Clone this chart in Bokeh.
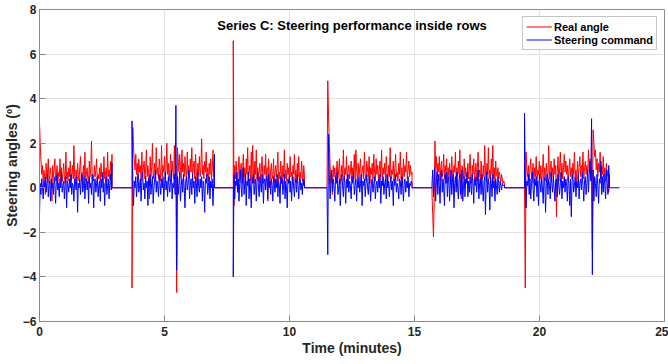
import numpy as np
from bokeh.plotting import figure
from bokeh.models import Label, Legend, LegendItem
from bokeh.embed import file_html
from bokeh.resources import INLINE

# segment time spans (minutes)
SEG_START = [0.0, 3.7, 7.75, 11.5, 15.7, 19.4]
SEG_END = [2.9, 7.0, 10.6, 14.9, 18.6, 22.8]
END_TIME = 23.2

X_TICKS = [0, 5, 10, 15, 20, 25]
Y_TICKS = [-6, -4, -2, 0, 2, 4, 6, 8]

# Real angle values per segment
R1 = [2.9,2.0,1.2,0.6,1.0,0.3,0.8,0.5,-0.3,1.1,0.4,0.7,1.3,0.2,0.6,0.9,0.4,-0.6,1.0,0.5,
      0.8,1.3,0.3,0.6,1.0,0.2,0.7,0.5,1.3,0.4,0.9,0.3,0.6,1.1,0.5,0.2,1.6,0.4,0.7,0.3,
      0.9,0.5,1.2,0.3,0.6,1.0,0.4,1.9,0.5,0.2,0.8,0.4,1.1,0.6,0.3,0.9,1.4,0.4,0.7,0.2,
      1.0,0.5,1.6,0.3,0.6,0.9,0.4,0.2,1.2,0.5,0.8,2.1,0.4,0.6,0.3,1.0,0.5,0.8,1.3,0.2,
      0.6,0.4,0.9,0.3,1.1,0.5,0.7,0.2,1.4,0.4,0.6,0.9,0.3,1.6,0.5,0.8,0.4,1.2,0.6,1.5]
R2 = [-4.5,2.7,1.9,1.2,0.8,1.5,0.6,1.1,0.4,1.3,0.7,1.0,0.3,1.6,0.5,0.9,1.2,0.4,0.8,1.7,
      0.5,1.0,0.6,-0.5,1.4,0.5,0.9,2.0,0.4,0.7,1.1,0.3,1.8,0.6,0.9,0.4,1.3,0.8,0.3,1.9,
      0.5,1.0,0.7,1.4,0.4,0.9,2.0,0.6,1.1,0.3,0.8,1.5,0.5,1.2,0.7,0.4,1.9,0.6,1.0,-4.7,
      1.8,1.3,0.7,1.5,0.9,0.4,1.7,0.7,1.1,0.5,1.4,0.8,0.3,1.6,0.6,1.0,0.4,1.3,0.7,1.8,
      0.5,0.9,1.2,0.4,1.5,0.7,0.3,1.1,0.6,1.4,0.5,0.9,2.2,0.6,1.0,0.4,1.2,0.7,1.6,0.5,
      0.9,0.3,1.1,0.6,1.3,0.4,0.8,1.7,0.5,0.6]
R3 = [6.6,-0.8,1.0,0.4,1.2,0.6,-0.2,0.9,1.4,0.3,0.7,1.1,0.2,0.8,1.5,0.5,0.9,0.1,1.3,0.6,
      1.8,0.4,0.7,1.0,0.3,1.6,0.5,1.9,0.8,0.2,1.2,0.6,1.7,0.4,0.9,0.3,0.7,1.1,0.3,0.8,
      1.4,0.5,0.2,1.0,0.6,1.5,0.3,0.9,-0.6,1.3,0.7,0.1,0.8,1.1,0.4,0.6,1.3,0.2,0.7,1.0,
      0.5,0.9,1.6,0.3,0.7,0.4,1.2,0.6,0.2,1.0,0.5,1.7,0.4,0.8,0.3,1.1,0.6,0.9,0.2,1.4,
      0.5,0.7,0.3,1.0,0.6,1.5,0.4,0.8,0.2,1.1,0.5,1.4,0.3,0.7,0.4,1.2,0.6,0.3,1.0,0.5]
R4 = [0.0,4.8,3.2,2.0,1.0,0.2,0.8,-0.3,1.0,0.5,0.9,0.3,0.7,1.2,0.4,0.8,1.3,0.2,0.6,1.0,
      0.5,1.7,0.3,0.9,0.6,1.4,0.2,0.8,1.0,0.4,0.7,1.2,0.3,0.9,0.6,1.5,0.4,1.7,0.8,0.3,
      1.1,0.5,0.9,1.3,0.2,0.7,1.0,0.4,1.6,0.6,0.3,1.2,0.8,0.5,1.4,0.2,0.9,0.6,1.1,0.4,
      1.5,0.7,0.3,1.3,0.6,1.0,0.4,0.8,1.2,0.5,1.7,0.3,0.9,0.6,1.1,0.4,1.4,0.7,0.2,1.0,
      0.5,1.8,0.4,0.8,0.6,1.2,0.3,0.9,1.5,0.5,0.7,0.3,1.1,0.6,1.6,0.4,0.9,0.2,1.3,0.5,
      1.0,0.7,1.6,0.4,0.8,1.2,0.5,1.0,0.6,0.7]
R5 = [-0.3,-1.2,-2.2,-0.6,2.1,0.9,1.4,0.5,1.1,0.7,1.4,0.3,0.9,1.2,0.5,0.8,1.5,0.4,1.0,0.6,
      1.3,0.2,0.9,0.5,1.1,0.3,0.8,1.4,0.6,0.4,1.0,0.7,1.6,0.3,0.9,0.5,1.2,0.6,1.7,0.4,
      -0.5,1.0,0.7,0.4,1.3,0.5,0.9,0.3,0.6,1.1,0.4,0.8,1.5,0.5,0.2,1.0,0.6,1.3,0.4,0.7,
      1.1,0.3,0.9,1.6,0.5,0.8,0.3,1.2,0.6,0.4,1.0,0.5,1.9,0.7,0.3,1.1,0.6,1.8,0.4,0.8,
      0.5,1.3,0.6,1.9,0.4,0.9,0.3,1.2,0.6,0.5,0.9,0.4,0.7,0.5,0.3,0.6,0.4,0.2,0.3,0.2]
R6 = [0.0,-4.5,1.6,0.9,0.5,1.0,0.3,0.8,1.3,0.4,0.7,1.1,0.2,0.9,0.5,1.4,0.3,0.8,0.6,1.2,
      0.4,1.0,0.2,0.7,1.5,0.5,0.9,0.3,1.1,0.6,0.4,1.9,0.4,0.8,1.2,0.5,0.9,0.3,1.3,0.6,
      1.0,-1.3,0.7,1.4,0.3,0.8,1.6,0.5,1.1,0.4,0.9,1.5,0.7,1.2,0.6,1.0,0.3,0.8,1.3,0.5,
      0.9,0.4,1.1,0.6,1.6,0.5,0.8,0.3,1.2,0.6,0.9,1.4,0.5,1.0,0.7,1.6,0.4,0.9,1.2,0.6,
      1.0,0.5,1.7,0.8,1.3,0.6,0.9,-2.8,2.6,2.0,1.4,1.7,0.8,1.3,0.5,1.1,0.7,1.6,0.4,1.0,
      0.6,1.4,0.5,0.9,0.3,1.1,0.5,0.8,-0.2,0.6]

# Steering command values per segment
B1 = [-1.2,0.2,-0.3,0.4,0.1,-0.5,0.3,0.0,0.5,-0.2,0.2,0.6,-0.4,0.1,0.3,-0.6,0.4,0.0,0.2,-0.3,
      0.5,0.1,-0.7,0.3,0.6,-0.1,0.2,-0.4,0.4,0.0,0.7,-0.2,0.1,0.3,-0.5,0.2,0.5,-0.9,0.3,0.1,
      -0.2,0.4,0.0,0.6,-0.3,0.2,0.1,-0.6,0.4,0.3,-0.1,0.5,-1.1,0.2,0.0,0.4,-0.3,0.3,0.6,-0.2,
      0.1,0.5,-0.5,0.2,0.4,-0.1,0.3,-0.7,0.5,0.0,0.2,-0.3,0.6,0.1,-0.9,0.3,0.4,-0.2,0.2,0.5,
      -0.4,0.1,0.3,-0.6,0.4,0.0,0.6,-0.2,0.2,-0.8,0.3,0.5,-0.3,0.1,0.4,-0.5,0.2,0.6,-0.1,1.1]
B2 = [3.0,0.5,-0.8,0.3,0.0,0.5,-0.4,0.2,0.6,-0.2,0.1,0.4,-0.6,0.3,0.7,-0.1,0.2,-0.5,0.5,0.0,
      0.3,-0.8,0.4,0.1,0.6,-0.3,0.2,0.5,-0.7,0.0,0.4,0.8,-0.2,0.3,0.1,-0.4,0.6,0.2,-0.3,0.4,
      0.0,0.5,-0.6,0.2,0.7,-0.1,0.3,-0.4,0.5,0.1,-0.2,0.4,0.8,-0.5,0.2,0.0,0.6,-0.3,3.7,-3.7,
      0.5,-0.3,0.2,0.7,-0.6,0.1,0.4,-0.2,0.6,0.0,-0.9,0.3,0.5,-0.1,0.2,0.8,-0.5,0.1,0.4,-0.3,
      0.6,0.0,0.3,-0.7,0.5,0.2,-0.4,0.7,0.1,-0.2,0.4,0.0,0.5,-0.6,0.3,0.1,-1.1,0.4,0.2,0.6,
      -0.3,0.1,0.5,-0.5,0.3,0.0,0.4,-0.8,0.2,1.5]
B3 = [-4.0,0.6,-0.5,0.3,0.1,0.7,-0.2,0.4,-0.6,0.2,0.8,0.0,-0.4,0.5,0.9,-0.3,0.2,0.6,-0.8,0.3,
      0.1,0.7,-0.5,0.4,0.0,-0.9,0.5,0.2,0.6,-0.3,0.1,0.4,-0.6,0.3,0.7,0.0,-0.4,0.5,0.2,-0.2,
      0.6,0.1,-0.7,0.3,0.4,-0.1,0.5,0.2,-0.5,0.6,0.0,0.3,-0.3,0.4,0.1,-0.6,0.5,0.2,-0.2,0.4,
      0.0,0.6,-0.4,0.3,0.1,-0.7,0.5,0.2,0.4,-0.3,0.1,0.6,-0.5,0.3,0.0,-0.9,0.4,0.2,0.5,-0.2,
      0.3,-0.6,0.1,0.5,0.0,-0.4,0.4,0.2,-0.2,0.6,0.1,-0.5,0.3,0.4,-0.1,0.2,-0.3,0.4,0.1,0.3]
B4 = [0.0,-3.0,2.4,0.6,-0.5,0.3,0.8,-0.2,0.4,0.1,-0.6,0.5,0.2,0.7,-0.3,0.0,0.4,-0.8,0.3,0.6,
      0.1,-0.4,0.5,0.2,-0.7,0.4,0.0,0.6,-0.2,0.3,0.1,-0.5,0.5,0.2,0.7,-0.3,0.1,0.4,-0.6,0.3,
      0.0,0.5,-0.2,0.2,0.6,-0.8,0.3,0.1,0.4,-0.4,0.2,0.6,0.0,-0.3,0.5,0.1,-0.6,0.3,0.4,-0.2,
      0.2,0.5,-0.5,0.1,0.3,-0.2,0.4,0.0,0.6,-0.7,0.3,0.1,0.5,-0.3,0.2,0.4,-0.5,0.6,0.0,0.3,
      -0.4,0.2,0.5,-0.1,0.3,-0.8,0.4,0.1,0.6,-0.2,0.2,0.0,-0.5,0.4,0.3,-0.3,0.5,0.1,-0.6,0.2,
      0.4,-0.2,0.3,0.0,0.5,-0.4,0.2,0.1,0.3,0.2]
B5 = [0.2,0.8,-0.4,0.5,0.9,-0.6,0.3,0.7,-0.3,0.6,0.1,-0.7,0.5,0.8,-0.2,0.4,0.0,-0.8,0.6,0.2,
      0.7,-0.4,0.3,0.5,-0.6,0.1,0.8,-0.3,0.4,0.6,-0.9,0.2,0.5,-0.2,0.7,0.0,-0.5,0.4,0.6,-0.3,
      0.2,0.8,-0.6,0.1,0.5,-0.4,0.4,0.2,0.7,-0.4,0.3,-0.2,0.5,0.1,-0.3,0.6,0.2,-0.7,0.4,0.1,
      0.5,-0.2,0.3,0.8,-0.5,0.2,0.4,-0.3,0.6,0.0,-0.6,0.3,0.5,-1.2,0.2,0.7,-0.2,0.4,0.1,-1.0,
      0.5,0.2,-0.4,0.6,0.0,0.3,-0.6,0.4,0.1,-0.3,0.5,0.2,-0.2,0.3,0.1,-0.1,0.2,0.1,0.1,0.1]
B6 = [3.35,0.5,-0.9,0.3,0.1,0.6,-0.3,0.4,-0.5,0.2,0.7,0.0,-0.6,0.4,0.1,0.5,-0.4,0.3,-0.8,0.6,
      0.2,-0.2,0.4,0.0,-0.7,0.5,0.3,-1.1,0.2,0.6,-0.3,0.4,0.1,-0.5,0.7,0.2,-0.2,0.5,0.0,-0.6,
      0.3,0.4,-0.4,0.6,0.1,-0.3,0.2,0.7,-0.5,0.3,0.0,0.5,-0.2,0.4,0.1,-0.6,0.5,0.2,-0.8,0.4,
      -1.3,0.3,0.6,-0.2,0.1,0.5,-0.4,0.3,0.0,0.6,-0.5,0.2,0.4,-0.1,0.7,0.1,-0.6,0.3,0.5,-0.3,
      0.2,0.8,-0.2,0.6,1.2,0.3,3.1,-3.9,0.8,-0.6,0.5,0.2,-0.4,0.6,0.1,-0.7,0.4,0.2,1.2,-0.3,
      0.5,-0.2,0.6,0.1,-0.5,0.8,0.2,-0.3,1.0,0.1]

REAL = [R1, R2, R3, R4, R5, R6]
CMD = [B1, B2, B3, B4, B5, B6]


def build(segments, end_time):
    ts, vs = [], []
    for s, e, vals in zip(SEG_START, SEG_END, segments):
        t = np.linspace(s, e, len(vals))
        if ts:
            ts.append(s)
            vs.append(0.0)
        ts.extend(t.tolist())
        vs.extend(vals)
        ts.append(e)
        vs.append(0.0)
    if end_time is not None:
        ts.append(end_time)
        vs.append(0.0)
    return ts, vs


rt, rv = build(REAL, None)
bt, bv = build(CMD, END_TIME)

TXT = "#262626"
FONT = "Liberation Sans"
AXC = "#8a8a8a"

p = figure(frame_width=625, frame_height=312, output_backend="svg", toolbar_location=None,
           x_range=(0, 25), y_range=(-6, 8), min_border_left=30, min_border_top=9,
           min_border_right=4, min_border_bottom=30)
p.background_fill_color = "white"
p.border_fill_color = "white"
p.outline_line_color = AXC
p.outline_line_width = 1

p.xaxis.ticker = X_TICKS
p.yaxis.ticker = Y_TICKS
for ax in (p.xaxis, p.yaxis):
    ax.axis_line_color = AXC
    ax.major_tick_line_color = AXC
    ax.major_tick_in = 6
    ax.major_tick_out = 0
    ax.minor_tick_line_color = None
    ax.major_label_text_font = FONT
    ax.major_label_text_font_style = "bold"
    ax.major_label_text_font_size = "12px"
    ax.major_label_text_color = TXT
    ax.axis_label_text_font = FONT
    ax.axis_label_text_font_style = "bold"
    ax.axis_label_text_font_size = "14px"
    ax.axis_label_text_color = TXT
p.xaxis.major_label_standoff = 5
p.yaxis.major_label_standoff = 3
p.xaxis.axis_label_standoff = 1
p.yaxis.axis_label_standoff = 0
p.xaxis.axis_label = "Time (minutes)"
p.yaxis.axis_label = "Steering angles (º)"

p.xgrid.grid_line_color = "#e3e3e3"
p.ygrid.grid_line_color = "#e3e3e3"

r_real = p.line(rt, rv, line_color="#ff0000", line_width=1)
r_cmd = p.line(bt, bv, line_color="#0000ff", line_width=1)

title = Label(x=12.5, y=7.3, text="Series C: Steering performance inside rows", text_font=FONT,
              text_font_style="bold", text_font_size="13px", text_color="#000000",
              text_align="center", text_baseline="middle")
p.add_layout(title)

legend = Legend(items=[LegendItem(label="Real angle", renderers=[r_real]),
                       LegendItem(label="Steering command", renderers=[r_cmd])],
                location="top_right")
legend.label_text_font = FONT
legend.label_text_font_style = "bold"
legend.label_text_font_size = "11px"
legend.label_text_color = "#000000"
legend.border_line_color = AXC
legend.border_line_width = 1
legend.background_fill_alpha = 1
legend.margin = 7
legend.padding = 3
legend.spacing = 0
legend.label_height = 13
legend.glyph_height = 13
legend.glyph_width = 26
legend.label_standoff = 2
p.add_layout(legend)

open("out.html", "w").write(file_html(p, INLINE))
